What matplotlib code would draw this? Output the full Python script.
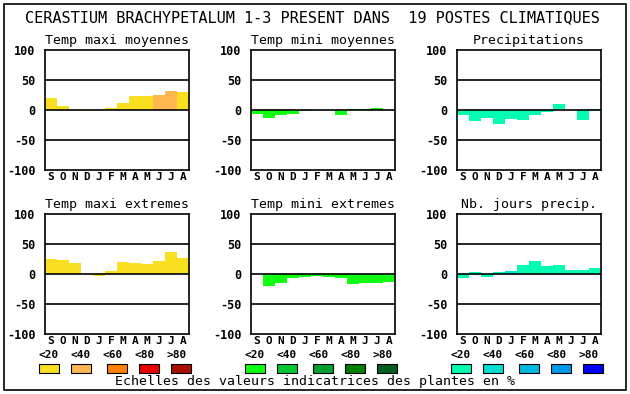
import numpy as np
import matplotlib
matplotlib.use("Agg")
import matplotlib.pyplot as plt
from matplotlib.patches import Rectangle

W, H = 630, 394

months = ["S", "O", "N", "D", "J", "F", "M", "A", "M", "J", "J", "A"]
classes = ["<20", "<40", "<60", "<80", ">80"]

titles = ["Temp maxi moyennes", "Temp mini moyennes", "Precipitations",
          "Temp maxi extremes", "Temp mini extremes", "Nb. jours precip."]

tmax_moy = [20, 7, 0, 1.5, 0, 3, 12, 23, 23, 25, 32, 30]
tmin_moy = [-6, -13, -8, -6, -2, 0, 0, -8, 1.5, 1.5, 3, 0]
precip = [-8, -18, -13, -24, -15, -16, -8, -4, 10, 0, -16, 2]
tmax_ext = [25, 24, 18, 0, -4, 5.5, 20.5, 18, 16, 22, 37, 27]
tmin_ext = [0, -20.5, -15.5, -7, -5.5, -3, -5.5, -7, -17, -15.5, -15.5, -14]
jours_precip = [-7, 4, -5.5, 4, 5.5, 15.5, 22, 14, 15.5, 7, 7, 10.5]

# classe de pourcentage (0..4) de chaque barre
cls_tmax_moy = [0, 0, 0, 0, 0, 0, 0, 0, 0, 1, 1, 0]
cls_tmin_moy = [0] * 12
cls_precip = [0] * 12
cls_tmax_ext = [0] * 12
cls_tmin_ext = [0] * 12
cls_jours = [0, 0, 0, 0, 1, 0, 0, 0, 0, 0, 0, 0]

yellows = ["#f8e020", "#ffb850", "#ff8000", "#e80000", "#a81000"]
greens = ["#10ff10", "#00c830", "#00a030", "#008000", "#006020"]
cyans = ["#00ffb0", "#00e0d0", "#00b8e0", "#0098e8", "#0000ff"]

panels = [
    (tmax_moy, cls_tmax_moy, yellows),
    (tmin_moy, cls_tmin_moy, greens),
    (precip, cls_precip, cyans),
    (tmax_ext, cls_tmax_ext, yellows),
    (tmin_ext, cls_tmin_ext, greens),
    (jours_precip, cls_jours, cyans),
]

mono = "DejaVu Sans Mono"

fig = plt.figure(figsize=(W / 100, H / 100), dpi=100)
fig.patch.set_facecolor("white")

def fx(px):
    return px / W

def fy(py):
    return 1 - py / H

# cadre exterieur
fig.add_artist(Rectangle((fx(4), fy(390)), fx(622), 386 / H, transform=fig.transFigure,
                         fill=False, edgecolor="black", linewidth=1.2))

fig.text(fx(312), fy(18), "CERASTIUM BRACHYPETALUM 1-3 PRESENT DANS  19 POSTES CLIMATIQUES",
         ha="center", va="center", family=mono, fontsize=11)

lefts = [45, 251, 457]
tops = [50, 214]
aw, ah = 144, 120

x = np.arange(12)
for i, (vals, cls, pal) in enumerate(panels):
    row, col = divmod(i, 3)
    l, t = lefts[col], tops[row]
    ax = fig.add_axes([fx(l), fy(t + ah), aw / W, ah / H])
    cols = [pal[c] for c in cls]
    ax.bar(x, vals, width=1.0, color=cols, linewidth=0, zorder=1)
    for yv in (-50, 0, 50):
        ax.axhline(yv, color="black", linewidth=1.2, zorder=2)
    ax.set_xlim(-0.5, 11.5)
    ax.set_ylim(-100, 100)
    ax.set_yticks([-100, -50, 0, 50, 100])
    ax.set_yticklabels(["-100", "-50", "0", "50", "100"], family=mono,
                       fontweight="bold", fontsize=8.5)
    ax.set_xticks(x)
    ax.set_xticklabels(months, family=mono, fontweight="bold", fontsize=8)
    ax.tick_params(length=0)
    ax.tick_params(axis="x", pad=1.5)
    ax.tick_params(axis="y", pad=7)
    for s in ax.spines.values():
        s.set_linewidth(1.2)
    ax.set_title(titles[i], family=mono, fontsize=9.5, pad=4)

    if row == 1:
        # legende des classes
        for k in range(5):
            cx = l + 4 + k * 32
            fig.text(fx(cx), fy(355), classes[k], ha="center", va="center",
                     family=mono, fontweight="bold", fontsize=8)
        sw_x = [l - 6, l + 26, l + 62, l + 94, l + 126]
        for k in range(5):
            fig.add_artist(Rectangle((fx(sw_x[k]), fy(373)), 20 / W, 9 / H,
                                     transform=fig.transFigure, facecolor=pal[k],
                                     edgecolor="black", linewidth=0.8))

fig.text(fx(315), fy(382), "Echelles des valeurs indicatrices des plantes en %",
         ha="center", va="center", family=mono, fontsize=9.5)

fig.savefig("out.png", dpi=100)
